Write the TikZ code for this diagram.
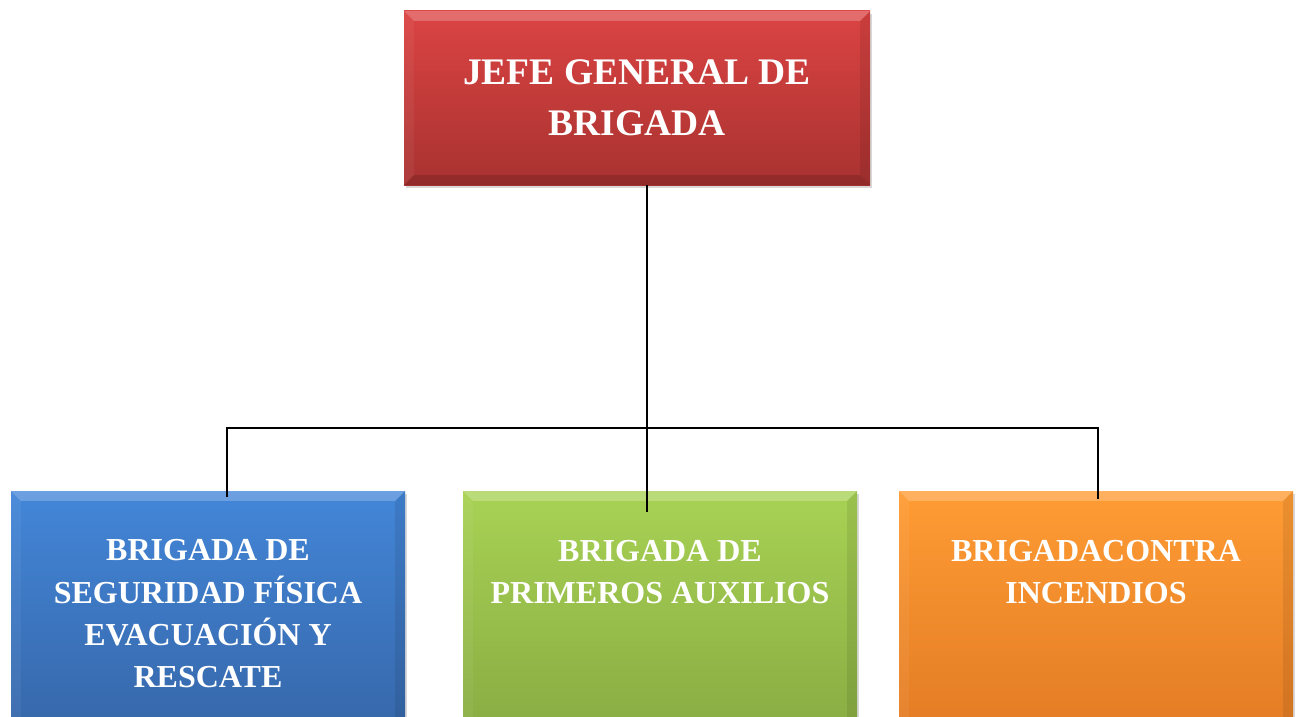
\documentclass[tikz,border=0pt]{standalone}
\usepackage{fontspec}
\setmainfont{Liberation Serif}
\usetikzlibrary{calc,shadows}
\definecolor{redT}{RGB}{219,68,67}
\definecolor{redB}{RGB}{168,50,48}
\definecolor{bluT}{RGB}{67,134,216}
\definecolor{bluB}{RGB}{52,98,162}
\definecolor{grnT}{RGB}{168,210,84}
\definecolor{grnB}{RGB}{132,166,64}
\definecolor{orgT}{RGB}{255,156,52}
\definecolor{orgB}{RGB}{222,118,34}
\newcommand\bevelit[1]{%
  \fill[white,opacity=0.22] (#1.north west) -- (#1.north east) -- ($(#1.north east)+(-10,10)$) -- ($(#1.north west)+(10,10)$) -- cycle;
  \fill[white,opacity=0.05] (#1.north west) -- ($(#1.north west)+(10,10)$) -- ($(#1.south west)+(10,-10)$) -- (#1.south west) -- cycle;
  \fill[black,opacity=0.08] (#1.north east) -- ($(#1.north east)+(-10,10)$) -- ($(#1.south east)+(-10,-10)$) -- (#1.south east) -- cycle;
  \fill[black,opacity=0.14] (#1.south west) -- ($(#1.south west)+(10,-10)$) -- ($(#1.south east)+(-10,-10)$) -- (#1.south east) -- cycle;
}
\begin{document}
\begin{tikzpicture}[x=1pt,y=-1pt,
  orgbox/.style={rectangle,draw=none,inner sep=0pt,
    drop shadow={opacity=0.3,shadow xshift=2pt,shadow yshift=-3pt}},
  lbl/.style={text=white,align=center,inner sep=0pt},
  conn/.style={draw=black,line width=1.8pt}]
\useasboundingbox (0,0) rectangle (1299,717);
\clip (0,0) rectangle (1299,717);
\fill[white] (0,0) rectangle (1299,717);

\node[orgbox,top color=redT,bottom color=redB,minimum width=466,minimum height=174,
  lbl,font=\bfseries\fontsize{37.5}{51}\selectfont] (jefe) at (637,98)
  {JEFE GENERAL DE\\BRIGADA};
\node[orgbox,top color=bluT,bottom color=bluB,minimum width=394,minimum height=280] (seg) at (208,631) {};
\node[orgbox,top color=grnT,bottom color=grnB,minimum width=394,minimum height=280] (aux) at (660,631) {};
\node[orgbox,top color=orgT,bottom color=orgB,minimum width=394,minimum height=280] (inc) at (1096,631) {};

\bevelit{jefe}
\bevelit{seg}
\bevelit{aux}
\bevelit{inc}

\node[lbl,font=\bfseries\fontsize{32}{42.3}\selectfont] (segt) at (208,614)
  {BRIGADA DE\\SEGURIDAD FÍSICA\\EVACUACIÓN Y\\RESCATE};
\node[lbl,font=\bfseries\fontsize{32}{42.3}\selectfont] (auxt) at (660,572)
  {BRIGADA DE\\PRIMEROS AUXILIOS};
\node[lbl,font=\bfseries\fontsize{32}{42.3}\selectfont] (inct) at (1096,572)
  {BRIGADACONTRA\\INCENDIOS};

\coordinate (jc) at (647,428);
\coordinate (jl) at (227,428);
\coordinate (jr) at (1098,428);
\coordinate (cend) at (647,512);
\draw[conn] (jefe.south -| jc) -- (cend);
\draw[conn] ($(seg.north -| jl)+(0,6)$) -- (jl) -- (jr) -- ($(inc.north -| jr)+(0,8)$);
\end{tikzpicture}
\end{document}
